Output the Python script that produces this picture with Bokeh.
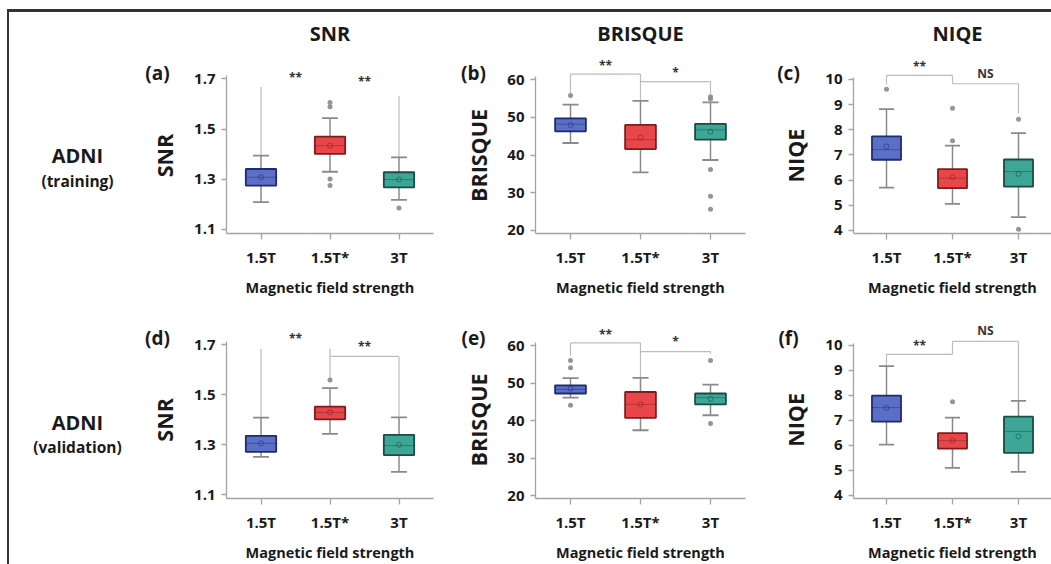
import math
from bokeh.plotting import figure
from bokeh.models import Range1d, FactorRange, FixedTicker, Label, ColumnDataSource
from bokeh.transform import dodge
from bokeh.layouts import row, column
from bokeh.embed import file_html
from bokeh.resources import INLINE

# ---------------- data ----------------
CATEGORIES = ["1.5T", "1.5T*", "3T"]
COLUMN_TITLES = ["SNR", "BRISQUE", "NIQE"]
ROW_TITLES = [("ADNI", "(training)"), ("ADNI", "(validation)")]
PANEL_TAGS = ["(a)", "(b)", "(c)", "(d)", "(e)", "(f)"]
X_LABEL = "Magnetic field strength"

SNR_TICKS = [1.1, 1.3, 1.5, 1.7]
BRISQUE_TICKS = [20, 30, 40, 50, 60]
NIQE_TICKS = [4, 5, 6, 7, 8, 9, 10]

# (a) SNR - training
A_LOWER = [1.209, 1.330, 1.218]
A_Q1 = [1.275, 1.401, 1.268]
A_MEDIAN = [1.308, 1.434, 1.299]
A_Q3 = [1.341, 1.470, 1.328]
A_UPPER = [1.394, 1.544, 1.387]
A_MEAN = [1.308, 1.434, 1.299]
A_OUTLIERS = [[], [1.606, 1.589, 1.301, 1.275], [1.186]]
A_BRACKETS = [("1.5T", "1.5T*", 1.668, 1.394, None, False),
              ("1.5T*", "3T", 1.632, None, 1.387, False)]
A_SIGNIF = [("**", 1.716), ("**", 1.700)]

# (b) BRISQUE - training
B_LOWER = [43.2, 35.4, 38.7]
B_Q1 = [46.3, 41.6, 44.1]
B_MEDIAN = [48.2, 44.1, 46.7]
B_Q3 = [49.75, 48.0, 48.3]
B_UPPER = [53.4, 54.4, 54.0]
B_MEAN = [48.0, 44.7, 46.2]
B_OUTLIERS = [[55.8], [], [55.5, 54.9, 36.2, 29.1, 25.6]]
B_BRACKETS = [("1.5T", "1.5T*", 61.5, 56.3, 54.4, True),
              ("1.5T*", "3T", 59.5, None, 56.3, True)]
B_SIGNIF = [("**", 64.6), ("*", 62.8)]

# (c) NIQE - training
C_LOWER = [5.70, 5.06, 4.53]
C_Q1 = [6.81, 5.68, 5.74]
C_MEDIAN = [7.21, 6.08, 6.34]
C_Q3 = [7.74, 6.44, 6.82]
C_UPPER = [8.82, 7.37, 7.87]
C_MEAN = [7.34, 6.12, 6.25]
C_OUTLIERS = [[9.61], [8.86, 7.56], [8.42, 4.05]]
C_BRACKETS = [("1.5T", "1.5T*", 10.16, 9.80, 9.83, True),
              ("1.5T*", "3T", 9.83, None, 8.65, True)]
C_SIGNIF = [("**", 10.63), ("NS", 10.24)]

# (d) SNR - validation
D_LOWER = [1.251, 1.343, 1.191]
D_Q1 = [1.271, 1.401, 1.258]
D_MEDIAN = [1.305, 1.429, 1.296]
D_Q3 = [1.335, 1.452, 1.339]
D_UPPER = [1.408, 1.526, 1.409]
D_MEAN = [1.305, 1.429, 1.299]
D_OUTLIERS = [[], [1.559], []]
D_BRACKETS = [("1.5T", "1.5T*", 1.684, 1.408, 1.565, False),
              ("1.5T*", "3T", 1.653, None, 1.409, True)]
D_SIGNIF = [("**", 1.736), ("**", 1.706)]

# (e) BRISQUE - validation
E_LOWER = [46.1, 37.4, 41.4]
E_Q1 = [47.2, 40.7, 44.3]
E_MEDIAN = [48.3, 44.3, 46.1]
E_Q3 = [49.4, 47.6, 47.2]
E_UPPER = [51.3, 51.4, 49.6]
E_MEAN = [48.5, 44.3, 45.8]
E_OUTLIERS = [[56.0, 54.1, 44.1], [], [56.0, 39.2]]
E_BRACKETS = [("1.5T", "1.5T*", 60.7, 57.3, 51.4, True),
              ("1.5T*", "3T", 58.4, None, 57.8, True)]
E_SIGNIF = [("**", 63.7), ("*", 62.0)]

# (f) NIQE - validation
F_LOWER = [6.03, 5.10, 4.94]
F_Q1 = [6.95, 5.87, 5.70]
F_MEDIAN = [7.51, 6.19, 6.56]
F_Q3 = [7.99, 6.49, 7.15]
F_UPPER = [9.17, 7.11, 7.78]
F_MEAN = [7.50, 6.20, 6.36]
F_OUTLIERS = [[], [7.75], []]
F_BRACKETS = [("1.5T", "1.5T*", 9.64, 9.17, None, True),
              ("1.5T*", "3T", 10.16, 9.64, 7.78, True)]
F_SIGNIF = [("**", 10.13), ("NS", 10.60)]

# ---------------- style / layout ----------------
FONT = "Open Sans"
TXT = "#1a1a1a"
FILL = ["#5b6fc6", "#e8464b", "#3ea696"]
EDGE = ["#1f2b6f", "#7d1d1d", "#1b4c44"]
GREY = "#8a8a8a"
AXIS = "#a3a3a3"
BRACKET = "#bdbdbd"

# lo = value at the x axis, ppu = pixels per unit, top = end of the drawn y-axis line
YSPEC = {
    "SNR": dict(ticks=SNR_TICKS, lo=1.084, ppu=251.0, top=1.712),
    "BRISQUE": dict(ticks=BRISQUE_TICKS, lo=19.2, ppu=3.77, top=60.8),
    "NIQE": dict(ticks=NIQE_TICKS, lo=3.88, ppu=25.17, top=10.08),
}
LABEL_W = 115
COLS = [dict(width=311, bl=102, br=2, tag_x=-69, title_x=103.5, ylab_x=-62),
        dict(width=312, bl=100, br=2, tag_x=-62, title_x=105, ylab_x=-57),
        dict(width=304, bl=106, br=0, tag_x=-65, title_x=104, ylab_x=-58)]
ROWS = [dict(height=290, bt=34, bb=69, ylab_y=78), dict(height=262, bt=16, bb=65, ylab_y=79)]


def make_panel(r, c, stats, brackets, signif):
    metric = COLUMN_TITLES[c]
    spec = YSPEC[metric]
    cs, rs = COLS[c], ROWS[r]
    fw = cs["width"] - cs["bl"] - cs["br"]
    fh = rs["height"] - rs["bt"] - rs["bb"]
    n = len(CATEGORIES)
    lo = spec["lo"]
    hi = lo + fh / spec["ppu"]

    def sx(px):  # frame pixel offset -> synthetic categorical coordinate
        return px * n / fw

    p = figure(width=cs["width"], height=rs["height"],
               x_range=FactorRange(factors=CATEGORIES), y_range=Range1d(lo, hi),
               min_border_left=cs["bl"], min_border_right=cs["br"],
               min_border_top=rs["bt"], min_border_bottom=rs["bb"],
               output_backend="svg", toolbar_location=None)
    p.extra_y_ranges = {"px": Range1d(0, fh)}
    p.outline_line_color = None
    p.xgrid.visible = False
    p.ygrid.visible = False
    p.background_fill_color = "white"
    p.border_fill_color = "white"

    lower, q1, med, q3, upper, mean, outl = stats
    src = ColumnDataSource(dict(cat=CATEGORIES, lower=lower, q1=q1, med=med, q3=q3,
                                upper=upper, mean=mean, fill=FILL, edge=EDGE))

    # significance brackets
    bx0, bx1, by0, by1 = [], [], [], []
    for c1, c2, level, f1, f2, bar in brackets:
        if f1 is not None:
            bx0.append(c1); bx1.append(c1); by0.append(f1); by1.append(level)
        if f2 is not None:
            bx0.append(c2); bx1.append(c2); by0.append(f2); by1.append(level)
        if bar:
            bx0.append(c1); bx1.append(c2); by0.append(level); by1.append(level)
    p.segment(x0=bx0, y0=by0, x1=bx1, y1=by1, line_color=BRACKET, line_width=1.2)

    # whiskers and caps
    p.segment(x0="cat", y0="q3", x1="cat", y1="upper", source=src, line_color=GREY, line_width=1.5)
    p.segment(x0="cat", y0="q1", x1="cat", y1="lower", source=src, line_color=GREY, line_width=1.5)
    for key in ("upper", "lower"):
        p.segment(x0=dodge("cat", -0.115, range=p.x_range), y0=key,
                  x1=dodge("cat", 0.115, range=p.x_range), y1=key,
                  source=src, line_color=GREY, line_width=1.8)
    # boxes
    p.vbar(x="cat", width=0.44, bottom="q1", top="q3", source=src,
           fill_color="fill", line_color="edge", line_width=1.8)
    p.segment(x0=dodge("cat", -0.21, range=p.x_range), y0="med",
              x1=dodge("cat", 0.21, range=p.x_range), y1="med",
              source=src, line_color="edge", line_alpha=0.45, line_width=1)
    p.scatter(x="cat", y="mean", source=src, marker="circle", size=5,
              fill_color=None, line_color="edge", line_alpha=0.55, line_width=1)
    # outliers
    ox = [cat for cat, vals in zip(CATEGORIES, outl) for _ in vals]
    oy = [v for vals in outl for v in vals]
    p.scatter(x=ox, y=oy, marker="circle", size=5, fill_color=GREY, line_color=None, fill_alpha=0.9)

    # significance marks (between neighbouring categories)
    for i, (txt, yv) in enumerate(signif):
        p.add_layout(Label(x=i + 1.0, y=yv, text=txt, text_font=FONT, text_font_style="bold",
                           text_font_size="12px", text_color="#333333",
                           text_align="center", text_baseline="middle",
                           y_offset=-3 if "*" in txt else 0))

    # axes
    yax = p.yaxis[0]
    yax.ticker = FixedTicker(ticks=spec["ticks"])
    yax.bounds = (lo, spec["top"])
    xax = p.xaxis[0]
    xax.axis_label = X_LABEL
    xax.axis_label_text_font = FONT
    xax.axis_label_text_font_style = "bold"
    xax.axis_label_text_font_size = "14.5px"
    xax.axis_label_text_color = TXT
    xax.axis_label_standoff = 8
    for ax, tout in ((yax, 5), (xax, 6)):
        ax.axis_line_color = AXIS
        ax.axis_line_width = 1.3
        ax.major_tick_line_color = AXIS
        ax.major_tick_line_width = 1.3
        ax.major_tick_out = tout
        ax.major_tick_in = 0
        ax.minor_tick_line_color = None
        ax.major_label_text_font = FONT
        ax.major_label_text_font_style = "bold"
        ax.major_label_text_font_size = "15px"
        ax.major_label_text_color = TXT
        ax.major_label_standoff = 7 if ax is xax else 6

    # texts outside the frame go into the side panels so they are not clipped
    def lab(x, y, text, size, angle=0.0):
        return Label(x=sx(x), y=y, y_range_name="px", text=text, text_font=FONT,
                     text_font_style="bold", text_font_size=size, text_color=TXT,
                     text_align="center", text_baseline="middle", angle=angle)

    p.add_layout(lab(cs["ylab_x"], rs["ylab_y"], metric, "21.5px", math.pi / 2), "left")
    p.add_layout(lab(cs["tag_x"], 161, PANEL_TAGS[r * 3 + c], "19px"), "left")
    if r == 0:
        p.add_layout(lab(cs["title_x"], 200, metric, "20px"), "above")
    return p


pa = make_panel(0, 0, (A_LOWER, A_Q1, A_MEDIAN, A_Q3, A_UPPER, A_MEAN, A_OUTLIERS), A_BRACKETS, A_SIGNIF)
pb = make_panel(0, 1, (B_LOWER, B_Q1, B_MEDIAN, B_Q3, B_UPPER, B_MEAN, B_OUTLIERS), B_BRACKETS, B_SIGNIF)
pc = make_panel(0, 2, (C_LOWER, C_Q1, C_MEDIAN, C_Q3, C_UPPER, C_MEAN, C_OUTLIERS), C_BRACKETS, C_SIGNIF)
pd = make_panel(1, 0, (D_LOWER, D_Q1, D_MEDIAN, D_Q3, D_UPPER, D_MEAN, D_OUTLIERS), D_BRACKETS, D_SIGNIF)
pe = make_panel(1, 1, (E_LOWER, E_Q1, E_MEDIAN, E_Q3, E_UPPER, E_MEAN, E_OUTLIERS), E_BRACKETS, E_SIGNIF)
pf = make_panel(1, 2, (F_LOWER, F_Q1, F_MEDIAN, F_Q3, F_UPPER, F_MEAN, F_OUTLIERS), F_BRACKETS, F_SIGNIF)

# row titles in a narrow text-only figure on the left (pixel coordinates, y downwards)
total_h = ROWS[0]["height"] + ROWS[1]["height"]
lf = figure(width=LABEL_W, height=total_h, x_range=Range1d(0, LABEL_W), y_range=Range1d(total_h, 0),
            min_border=0, x_axis_location=None, y_axis_location=None,
            output_backend="svg", toolbar_location=None)
lf.outline_line_color = None
lf.background_fill_color = "white"
lf.border_fill_color = "white"
for g in lf.grid:
    g.visible = False
lf.xgrid.visible = False
lf.ygrid.visible = False
for (t1, t2), y1, y2 in zip(ROW_TITLES, (143, 410), (168, 434)):
    lf.add_layout(Label(x=68, y=y1, text=t1, text_font=FONT, text_font_style="bold",
                        text_font_size="20px", text_color=TXT,
                        text_align="center", text_baseline="middle"))
    lf.add_layout(Label(x=68, y=y2, text=t2, text_font=FONT, text_font_style="bold",
                        text_font_size="15.5px", text_color=TXT,
                        text_align="center", text_baseline="middle"))

layout = row(lf, column(row(pa, pb, pc), row(pd, pe, pf)),
             styles={"margin-left": "7px", "margin-top": "9px",
                     "border-top": "3px solid #333333", "border-left": "2px solid #333333"})

open("out.html", "w").write(file_html(layout, INLINE))
